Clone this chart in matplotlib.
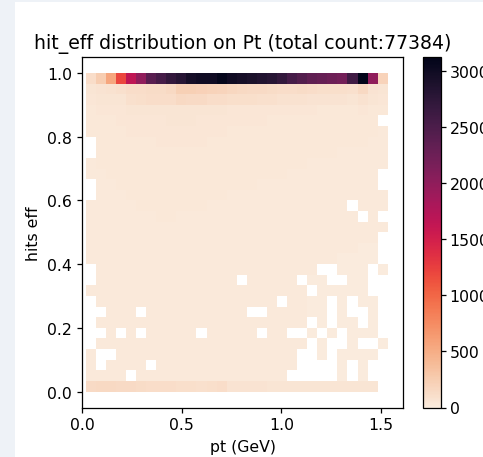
import numpy as np
import matplotlib
matplotlib.use("Agg")
import matplotlib.pyplot as plt
import seaborn as sns
from matplotlib.patches import Rectangle

title = "hit_eff distribution on Pt (total count:77384)"
x_label = "pt (GeV)"
y_label = "hits eff"

pt_min, pt_max, n_pt = 0.017, 1.535, 30
eff_min, eff_max, n_eff = 0.0, 1.0, 30
cbar_ticks = [0, 500, 1000, 1500, 2000, 2500, 3000]

# counts per bin, rows from top (eff ~1.0) to bottom (eff ~0.0); 0 = empty bin
counts_top_down = [
    [120, 250, 550, 1200, 1650, 2000, 2400, 2550, 2700, 2800, 2950, 3000, 3000, 3100, 3000, 2950, 2900, 2850, 2800, 2700, 2550, 2450, 2350, 2300, 2250, 2200, 2600, 3125, 2000, 200],
    [60, 70, 80, 90, 110, 120, 130, 130, 150, 230, 220, 210, 200, 190, 170, 150, 140, 140, 130, 120, 120, 130, 110, 100, 100, 100, 90, 150, 70, 50],
    [40, 50, 60, 60, 90, 100, 110, 110, 110, 150, 140, 140, 120, 110, 100, 100, 100, 90, 90, 80, 80, 80, 70, 70, 70, 70, 60, 80, 50, 40],
    [35, 40, 40, 45, 50, 55, 50, 50, 55, 60, 55, 55, 50, 50, 45, 45, 45, 45, 40, 40, 40, 40, 40, 35, 35, 35, 35, 40, 30, 30],
    [30, 35, 35, 40, 45, 45, 45, 45, 50, 50, 50, 45, 45, 45, 40, 40, 40, 40, 35, 35, 35, 35, 35, 30, 30, 30, 30, 30, 25, 0],
    [25, 30, 30, 35, 40, 40, 40, 40, 45, 45, 45, 40, 40, 40, 35, 35, 35, 35, 30, 30, 30, 30, 30, 30, 25, 25, 25, 25, 25, 20],
    [0, 25, 30, 30, 35, 35, 35, 40, 40, 40, 40, 40, 35, 35, 35, 35, 30, 30, 30, 30, 30, 25, 25, 25, 25, 25, 25, 25, 20, 20],
    [0, 25, 25, 30, 30, 35, 35, 35, 35, 35, 35, 35, 35, 30, 30, 30, 30, 30, 30, 25, 25, 25, 25, 25, 25, 20, 20, 20, 20, 20],
    [20, 25, 25, 30, 30, 30, 30, 30, 30, 35, 30, 30, 30, 30, 30, 30, 25, 25, 25, 25, 25, 25, 20, 20, 20, 20, 20, 20, 20, 20],
    [20, 20, 25, 25, 25, 30, 30, 30, 30, 30, 30, 30, 30, 30, 25, 25, 25, 25, 25, 25, 20, 20, 20, 20, 20, 20, 20, 20, 20, 0],
    [0, 20, 20, 25, 25, 25, 25, 30, 25, 25, 25, 25, 25, 25, 25, 25, 25, 20, 20, 20, 20, 20, 20, 20, 20, 20, 20, 20, 20, 0],
    [0, 20, 20, 20, 25, 25, 25, 25, 25, 25, 25, 25, 25, 25, 20, 20, 20, 20, 20, 20, 20, 20, 20, 20, 20, 20, 20, 20, 15, 20],
    [20, 20, 20, 20, 20, 25, 25, 25, 25, 25, 25, 25, 20, 20, 20, 20, 20, 20, 20, 20, 20, 20, 20, 20, 20, 20, 0, 15, 15, 15],
    [20, 20, 20, 20, 20, 20, 20, 25, 25, 20, 20, 20, 20, 20, 20, 20, 20, 20, 20, 20, 20, 20, 20, 20, 15, 15, 15, 0, 15, 0],
    [15, 20, 20, 20, 20, 20, 20, 20, 20, 20, 20, 20, 20, 20, 20, 20, 20, 20, 20, 20, 15, 15, 15, 15, 15, 15, 15, 15, 15, 15],
    [15, 15, 20, 20, 20, 20, 20, 20, 20, 20, 20, 20, 20, 20, 20, 20, 15, 15, 15, 15, 15, 15, 15, 15, 15, 15, 15, 15, 15, 0],
    [15, 15, 15, 20, 20, 20, 20, 20, 20, 20, 20, 20, 20, 20, 15, 15, 15, 15, 15, 15, 15, 15, 15, 15, 15, 15, 15, 10, 10, 0],
    [15, 15, 15, 15, 15, 20, 20, 20, 20, 20, 20, 20, 15, 15, 15, 15, 15, 15, 15, 15, 15, 15, 15, 15, 15, 10, 10, 10, 10, 0],
    [0, 15, 15, 15, 15, 15, 15, 15, 15, 15, 15, 15, 15, 15, 15, 15, 15, 15, 15, 15, 15, 15, 15, 0, 0, 10, 10, 10, 0, 10],
    [0, 15, 15, 15, 15, 15, 15, 15, 15, 15, 15, 15, 15, 15, 15, 0, 15, 15, 15, 15, 15, 0, 10, 10, 0, 0, 10, 10, 0, 0],
    [15, 15, 15, 15, 15, 15, 15, 15, 15, 15, 15, 15, 15, 15, 15, 15, 15, 15, 15, 15, 15, 15, 0, 10, 10, 10, 10, 10, 0, 0],
    [0, 15, 15, 15, 15, 15, 15, 15, 15, 15, 15, 15, 15, 15, 15, 15, 15, 15, 15, 0, 15, 15, 10, 10, 0, 10, 0, 10, 10, 0],
    [0, 0, 15, 15, 15, 0, 15, 15, 15, 15, 15, 15, 15, 15, 15, 15, 0, 0, 15, 15, 15, 15, 10, 10, 0, 10, 0, 0, 10, 0],
    [0, 15, 15, 15, 15, 15, 15, 15, 15, 15, 15, 15, 15, 15, 15, 15, 15, 15, 15, 15, 15, 15, 0, 10, 0, 10, 10, 0, 10, 0],
    [0, 0, 15, 0, 15, 0, 15, 15, 15, 15, 15, 0, 15, 15, 15, 15, 15, 0, 15, 15, 0, 0, 10, 0, 10, 0, 10, 10, 10, 0],
    [0, 15, 15, 15, 15, 15, 15, 15, 15, 15, 15, 15, 15, 15, 15, 15, 15, 15, 15, 15, 15, 15, 0, 10, 0, 0, 10, 0, 0, 10],
    [15, 0, 0, 15, 15, 15, 15, 15, 15, 15, 15, 15, 15, 15, 15, 15, 15, 15, 15, 15, 15, 0, 0, 10, 0, 10, 10, 10, 10, 0],
    [15, 0, 15, 15, 15, 15, 0, 15, 15, 15, 15, 15, 15, 15, 15, 15, 15, 15, 15, 15, 15, 0, 0, 0, 0, 10, 0, 10, 0, 0],
    [15, 15, 15, 15, 0, 15, 15, 15, 15, 15, 15, 15, 15, 15, 15, 15, 15, 15, 15, 15, 0, 0, 0, 0, 0, 10, 0, 10, 0, 0],
    [140, 150, 150, 140, 140, 130, 120, 110, 110, 100, 100, 90, 100, 110, 70, 70, 70, 70, 60, 60, 60, 60, 60, 60, 60, 60, 60, 60, 60, 0],
]

W, H = 483, 458
DPI = 113
fig = plt.figure(figsize=(W / DPI, H / DPI), dpi=DPI, facecolor="white")
# screenshot frame strips
fig.patches.append(Rectangle((0, 0), 15 / W, 1, transform=fig.transFigure,
                             facecolor="#eef2f7", edgecolor="none", zorder=-5))
fig.patches.append(Rectangle((0, 1 - 3 / H), 1, 3 / H, transform=fig.transFigure,
                             facecolor="#eef2f7", edgecolor="none", zorder=-5))

ax_top, ax_bot = 58.0, 408.5
ax = fig.add_axes([82.3 / W, (H - ax_bot) / H, (403.3 - 82.3) / W, (ax_bot - ax_top) / H])
cax = fig.add_axes([422.7 / W, (H - ax_bot) / H, 18.3 / W, (ax_bot - ax_top) / H])

counts = np.array(counts_top_down[::-1], dtype=float)
masked = np.ma.masked_equal(counts, 0)
x_edges = np.linspace(pt_min, pt_max, n_pt + 1)
y_edges = np.linspace(eff_min, eff_max, n_eff + 1)

cmap = sns.color_palette("rocket_r", as_cmap=True)
mesh = ax.pcolormesh(x_edges, y_edges, masked, cmap=cmap, vmin=0, vmax=counts.max())
ax.set_xlim(0.0, 1.613)
ax.set_ylim(-0.05, 1.05)
ax.set_xticks([0.0, 0.5, 1.0, 1.5])
ax.set_yticks([0.0, 0.2, 0.4, 0.6, 0.8, 1.0])
ax.tick_params(axis="x", pad=2.5)
ax.tick_params(axis="y", pad=3.0)
ax.set_title(title, fontsize=12)
ax.set_xlabel(x_label, labelpad=4.5)
ax.set_ylabel(y_label)

cb = fig.colorbar(mesh, cax=cax, ticks=cbar_ticks)
cb.ax.tick_params(pad=2)

fig.savefig("out.png", dpi=DPI)
